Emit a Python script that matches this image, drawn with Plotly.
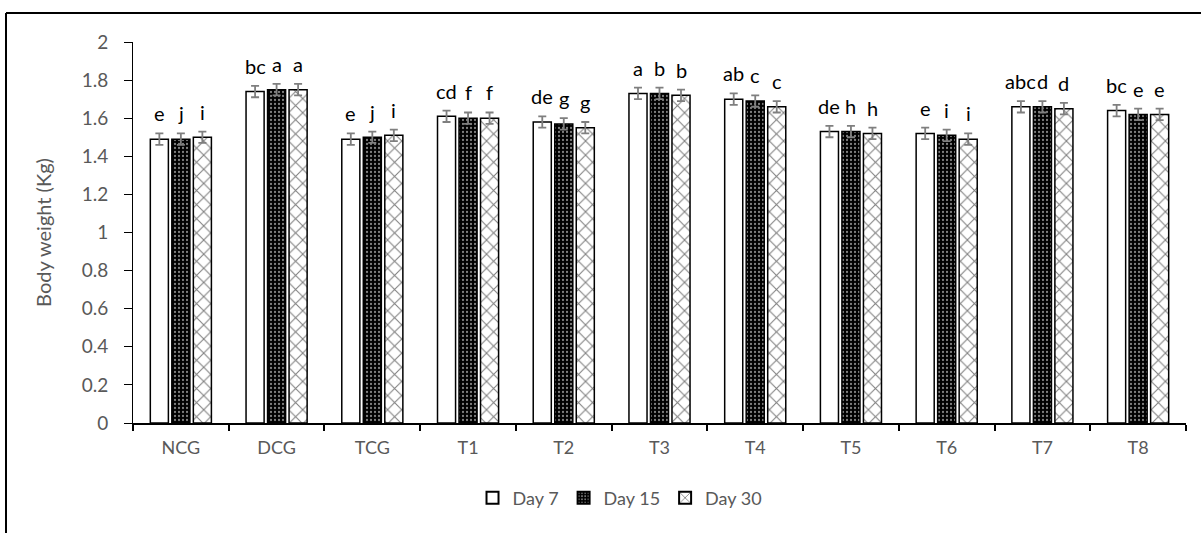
import plotly.graph_objects as go

categories = ["NCG", "DCG", "TCG", "T1", "T2", "T3", "T4", "T5", "T6", "T7", "T8"]
day7 = [1.49, 1.74, 1.49, 1.61, 1.58, 1.73, 1.70, 1.53, 1.52, 1.66, 1.64]
day15 = [1.49, 1.75, 1.50, 1.60, 1.57, 1.73, 1.69, 1.53, 1.51, 1.66, 1.62]
day30 = [1.50, 1.75, 1.51, 1.60, 1.55, 1.72, 1.66, 1.52, 1.49, 1.65, 1.62]
err7 = [0.03] * 11
err15 = [0.03] * 11
err30 = [0.03] * 11
lab7 = ["e", "bc", "e", "cd", "de", "a", "ab", "de", "e", "abc", "bc"]
lab15 = ["j", "a", "j", "f", "g", "b", "c", "h", "i", "d", "e"]
lab30 = ["i", "a", "i", "f", "g", "b", "c", "h", "i", "d", "e"]

series = [
    ("Day 7", day7, err7, lab7,
     dict(color="white", line=dict(color="black", width=1.5))),
    ("Day 15", day15, err15, lab15,
     dict(color="black", line=dict(color="black", width=1.5),
          pattern=dict(shape=".", fgcolor="white", bgcolor="black", size=4, solidity=0.25))),
    ("Day 30", day30, err30, lab30,
     dict(color="white", line=dict(color="black", width=1.5),
          pattern=dict(shape="x", fgcolor="black", bgcolor="white", size=10, solidity=0.2))),
]

fig = go.Figure()
for name, vals, errs, labs, marker in series:
    fig.add_trace(go.Bar(
        name=name, x=categories, y=vals, marker=marker,
        error_y=dict(type="data", array=errs, color="#7f7f7f", thickness=1.8, width=4),
    ))

pitch = 21.5
annotations = []
for k, (name, vals, errs, labs, marker) in enumerate(series):
    for c, v, e, t in zip(categories, vals, errs, labs):
        annotations.append(dict(
            x=c, y=v + e, xref="x", yref="y", text=t, showarrow=False,
            xshift=(k - 1) * pitch, yshift=6, yanchor="bottom",
            font=dict(family="Lato, sans-serif", size=20, color="black"),
        ))

fig.update_layout(
    width=1201, height=533,
    margin=dict(l=133, r=15, t=42, b=110),
    paper_bgcolor="white", plot_bgcolor="white",
    barmode="group", bargap=0.326, bargroupgap=0.16,
    font=dict(family="Lato, sans-serif", color="#595959"),
    showlegend=True,
    legend=dict(orientation="h", x=0.4625, xanchor="center", y=-0.197, yanchor="middle",
                font=dict(size=18, color="#595959"), itemsizing="constant", itemwidth=30),
    annotations=annotations,
    shapes=[
        dict(type="line", xref="paper", yref="paper", x0=(6 - 133) / 1053, x1=(6 - 133) / 1053,
             y0=(423 - 533) / 381, y1=(423 - 13) / 381, line=dict(color="black", width=2)),
        dict(type="line", xref="paper", yref="paper", x0=(6 - 133) / 1053, x1=(1201 - 133) / 1053,
             y0=(423 - 13) / 381, y1=(423 - 13) / 381, line=dict(color="black", width=2)),
    ],
)
fig.update_yaxes(
    range=[0, 2], dtick=0.2, tickformat="~g", showgrid=False, zeroline=False,
    showline=True, linecolor="black", linewidth=1,
    ticks="outside", ticklen=8, tickcolor="black", ticklabelstandoff=12,
    tickfont=dict(size=19, color="#595959"),
    title=dict(text="Body weight (Kg)", font=dict(size=20, color="#595959"), standoff=24),
)
fig.update_xaxes(
    showgrid=False, showline=True, linecolor="black", linewidth=1.5,
    ticks="outside", tickson="boundaries", ticklen=6, tickwidth=2, tickcolor="black",
    ticklabelstandoff=8,
    tickfont=dict(size=18, color="#595959"),
)
fig.write_html("out.html")
